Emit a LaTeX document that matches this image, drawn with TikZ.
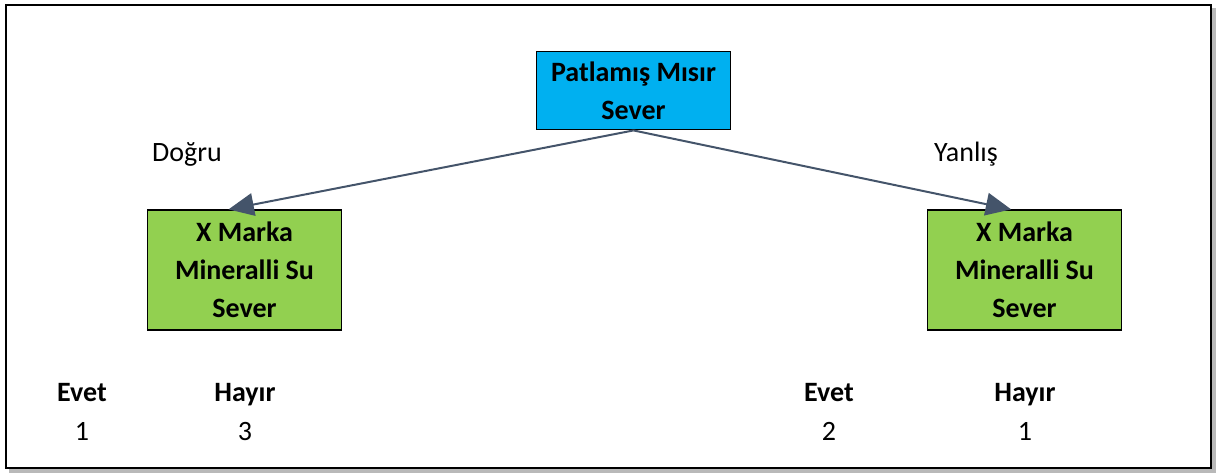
\documentclass[tikz,border=0pt]{standalone}
\usepackage{fontspec}
\setmainfont{Carlito}
\usetikzlibrary{arrows.meta}
\definecolor{ceu}{HTML}{00B0F0}
\definecolor{grama}{HTML}{92D050}
\definecolor{seta}{HTML}{44546A}

\begin{document}
\begin{tikzpicture}[x=0.75pt, y=-0.75pt,
	caixa/.style={draw=black, line width=0.9pt, minimum width=146pt, align=center,
		inner sep=0pt, font=\fontsize{21}{28.5}\selectfont\bfseries},
	texto/.style={anchor=base, font=\fontsize{21}{24}\selectfont},
	negrito/.style={texto, font=\fontsize{21}{24}\selectfont\bfseries},
	ramo/.style={draw=seta, line width=1.5pt, -{Triangle[length=19pt, width=17pt]}}]
	\useasboundingbox (0,0) rectangle (1217,473);
	% moldura com sombra
		\draw[gray!55, line width=2.5pt] (9,471) -- (1214,471) -- (1214,8);
		\draw[line width=2.2pt] (6,5) rectangle (1211,468);

	% as caixas
		\node[caixa, fill=ceu, minimum height=59pt] (topo) at (633.5,90.5) {Patlamış Mısır\\Sever};
		\node[caixa, fill=grama, minimum height=90pt] (esq) at (244.5,270) {X Marka\\Mineralli Su\\Sever};
		\node[caixa, fill=grama, minimum height=90pt] (dir) at (1024.5,270) {X Marka\\Mineralli Su\\Sever};

	% setas
		\draw[ramo] (topo.south) -- ([xshift=-12pt]esq.north);
		\draw[ramo] (topo.south) -- ([xshift=-10pt]dir.north);
		\node[texto] (sim) at (187,162) {Doğru};
		\node[texto] (nao) at (966,162) {Yanlış};

	% contagens
		\node[negrito] (ev1) at (82,402) {Evet};
		\node[texto] (n1) at (82,441) {1};
		\node[negrito] (ha1) at (245,402) {Hayır};
		\node[texto] (n2) at (245,441) {3};
		\node[negrito] (ev2) at (829,402) {Evet};
		\node[texto] (n3) at (829,441) {2};
		\node[negrito] (ha2) at (1025,402) {Hayır};
		\node[texto] (n4) at (1025,441) {1};
\end{tikzpicture}
\end{document}
